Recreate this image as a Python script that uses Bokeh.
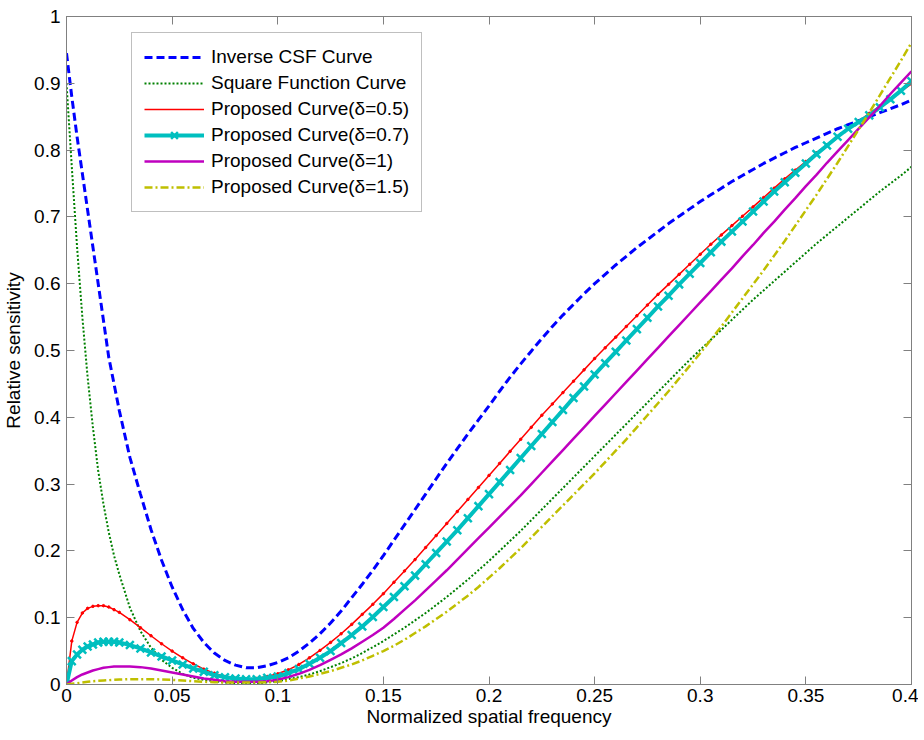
from bokeh.plotting import figure
from bokeh.models import Range1d, LinearAxis, FixedTicker, Legend, LegendItem
from bokeh.embed import file_html
from bokeh.resources import INLINE

# ---------------- data ----------------
FREQ = [0, 0.0025, 0.005, 0.0075, 0.01, 0.0125, 0.015, 0.0175, 0.02, 0.0225, 0.025,
        0.03, 0.035, 0.04, 0.045, 0.05, 0.055, 0.06, 0.065, 0.07, 0.075,
        0.08, 0.085, 0.09, 0.095, 0.1, 0.105, 0.11, 0.115, 0.12, 0.125,
        0.13, 0.135, 0.14, 0.145, 0.15, 0.155, 0.16, 0.165, 0.17, 0.175,
        0.18, 0.185, 0.19, 0.195, 0.2, 0.205, 0.21, 0.215, 0.22, 0.225,
        0.23, 0.235, 0.24, 0.245, 0.25, 0.255, 0.26, 0.265, 0.27, 0.275,
        0.28, 0.285, 0.29, 0.295, 0.3, 0.305, 0.31, 0.315, 0.32, 0.325,
        0.33, 0.335, 0.34, 0.345, 0.35, 0.355, 0.36, 0.365, 0.37, 0.375,
        0.38, 0.385, 0.39, 0.395, 0.4]

INVERSE_CSF = [0.945, 0.88, 0.82, 0.765, 0.71, 0.655, 0.60, 0.545, 0.49, 0.45, 0.41,
               0.34, 0.285, 0.232, 0.186, 0.146, 0.112, 0.084, 0.063, 0.047, 0.036,
               0.029, 0.025, 0.025, 0.028, 0.033, 0.040, 0.050, 0.062, 0.076, 0.092,
               0.110, 0.130, 0.150, 0.171, 0.193, 0.216, 0.239, 0.262, 0.285, 0.308,
               0.331, 0.353, 0.375, 0.396, 0.417, 0.439, 0.460, 0.480, 0.499, 0.518,
               0.536, 0.553, 0.569, 0.585, 0.600, 0.614, 0.628, 0.641, 0.654, 0.666,
               0.678, 0.690, 0.701, 0.712, 0.723, 0.733, 0.743, 0.753, 0.762, 0.771,
               0.780, 0.788, 0.796, 0.804, 0.811, 0.818, 0.825, 0.832, 0.838, 0.844,
               0.850, 0.856, 0.862, 0.868, 0.875]

SQUARE_FUNC = [0.90, 0.775, 0.655, 0.55, 0.46, 0.385, 0.32, 0.27, 0.228, 0.193, 0.165,
               0.115, 0.08, 0.055, 0.037, 0.025, 0.016, 0.010, 0.007, 0.005, 0.003,
               0.002, 0.002, 0.002, 0.003, 0.005, 0.008, 0.011, 0.015, 0.020, 0.026,
               0.032, 0.039, 0.047, 0.056, 0.065, 0.075, 0.085, 0.096, 0.107, 0.119,
               0.131, 0.144, 0.157, 0.171, 0.185, 0.200, 0.215, 0.230, 0.246, 0.262,
               0.278, 0.294, 0.310, 0.326, 0.342, 0.358, 0.374, 0.390, 0.406, 0.422,
               0.438, 0.454, 0.470, 0.486, 0.501, 0.516, 0.531, 0.546, 0.561, 0.576,
               0.590, 0.604, 0.618, 0.632, 0.646, 0.660, 0.673, 0.686, 0.699, 0.712,
               0.725, 0.738, 0.750, 0.762, 0.775]

PROPOSED_05 = [0, 0.065, 0.093, 0.107, 0.114, 0.117, 0.118, 0.118, 0.116, 0.112, 0.108,
               0.097, 0.085, 0.073, 0.061, 0.050, 0.040, 0.031, 0.023, 0.017, 0.012,
               0.009, 0.008, 0.009, 0.012, 0.016, 0.022, 0.030, 0.040, 0.051, 0.063,
               0.076, 0.090, 0.105, 0.120, 0.136, 0.153, 0.170, 0.187, 0.205, 0.223,
               0.241, 0.259, 0.277, 0.295, 0.313, 0.331, 0.349, 0.367, 0.385, 0.403,
               0.420, 0.437, 0.454, 0.471, 0.488, 0.504, 0.520, 0.536, 0.552, 0.568,
               0.584, 0.599, 0.614, 0.629, 0.644, 0.659, 0.673, 0.687, 0.701, 0.715,
               0.729, 0.743, 0.757, 0.770, 0.783, 0.796, 0.808, 0.820, 0.832, 0.843,
               0.855, 0.866, 0.877, 0.888, 0.899]

PROPOSED_07 = [0, 0.035, 0.045, 0.052, 0.057, 0.060, 0.063, 0.064, 0.064, 0.064, 0.063,
               0.059, 0.054, 0.048, 0.042, 0.036, 0.030, 0.024, 0.019, 0.014, 0.011,
               0.009, 0.008, 0.008, 0.010, 0.012, 0.017, 0.023, 0.031, 0.040, 0.050,
               0.062, 0.074, 0.087, 0.101, 0.116, 0.131, 0.147, 0.163, 0.180, 0.197,
               0.214, 0.231, 0.249, 0.267, 0.285, 0.303, 0.321, 0.339, 0.357, 0.375,
               0.393, 0.411, 0.429, 0.446, 0.464, 0.481, 0.498, 0.515, 0.532, 0.549,
               0.566, 0.582, 0.599, 0.615, 0.631, 0.647, 0.663, 0.678, 0.693, 0.708,
               0.723, 0.738, 0.752, 0.766, 0.780, 0.794, 0.807, 0.820, 0.832, 0.842,
               0.852, 0.864, 0.876, 0.889, 0.903]

PROPOSED_10 = [0, 0.006, 0.011, 0.015, 0.018, 0.021, 0.023, 0.025, 0.026, 0.027, 0.027,
               0.027, 0.026, 0.024, 0.021, 0.018, 0.015, 0.012, 0.009, 0.007, 0.005,
               0.004, 0.004, 0.004, 0.005, 0.007, 0.011, 0.016, 0.022, 0.029, 0.037,
               0.045, 0.054, 0.064, 0.074, 0.085, 0.098, 0.112, 0.126, 0.141, 0.156,
               0.171, 0.187, 0.203, 0.219, 0.235, 0.251, 0.267, 0.283, 0.300, 0.317,
               0.334, 0.351, 0.368, 0.385, 0.402, 0.419, 0.436, 0.453, 0.470, 0.487,
               0.504, 0.521, 0.538, 0.555, 0.572, 0.589, 0.606, 0.623, 0.641, 0.658,
               0.676, 0.693, 0.711, 0.728, 0.746, 0.763, 0.781, 0.798, 0.815, 0.832,
               0.849, 0.866, 0.884, 0.901, 0.918]

PROPOSED_15 = [0, 0.001, 0.002, 0.003, 0.004, 0.005, 0.0055, 0.006, 0.0065, 0.007, 0.0075,
               0.008, 0.008, 0.008, 0.0075, 0.007, 0.006, 0.005, 0.004, 0.0035, 0.003,
               0.003, 0.003, 0.003, 0.0035, 0.004, 0.006, 0.009, 0.012, 0.016, 0.020,
               0.025, 0.030, 0.036, 0.043, 0.050, 0.058, 0.067, 0.077, 0.087, 0.098,
               0.109, 0.121, 0.133, 0.146, 0.160, 0.174, 0.189, 0.204, 0.220, 0.236,
               0.252, 0.268, 0.284, 0.300, 0.316, 0.333, 0.350, 0.367, 0.385, 0.403,
               0.421, 0.439, 0.458, 0.477, 0.496, 0.516, 0.536, 0.557, 0.578, 0.599,
               0.620, 0.642, 0.664, 0.687, 0.710, 0.733, 0.757, 0.781, 0.806, 0.831,
               0.856, 0.882, 0.908, 0.934, 0.961]

X_TICKS = [0, 0.05, 0.1, 0.15, 0.2, 0.25, 0.3, 0.35, 0.4]
X_TICK_LABELS = ["0", "0.05", "0.1", "0.15", "0.2", "0.25", "0.3", "0.35", "0.4"]
Y_TICKS = [0, 0.1, 0.2, 0.3, 0.4, 0.5, 0.6, 0.7, 0.8, 0.9, 1]
Y_TICK_LABELS = ["0", "0.1", "0.2", "0.3", "0.4", "0.5", "0.6", "0.7", "0.8", "0.9", "1"]

LABELS = ["Inverse CSF Curve", "Square Function Curve", "Proposed Curve(\u03b4=0.5)",
          "Proposed Curve(\u03b4=0.7)", "Proposed Curve(\u03b4=1)", "Proposed Curve(\u03b4=1.5)"]

# ---------------- figure ----------------
FONT = "Liberation Sans"
AX_COLOR = "#808080"
FS = "19px"

p = figure(width=918, height=733, output_backend="svg", toolbar_location=None,
           x_range=Range1d(0, 0.4), y_range=Range1d(0, 1),
           min_border_left=66, min_border_right=7, min_border_top=16, min_border_bottom=49,
           background_fill_color="white", border_fill_color="white")
p.grid.visible = False
p.outline_line_color = AX_COLOR
p.outline_line_width = 1


def style_axis(ax, ticks, labels, show):
    ax.ticker = FixedTicker(ticks=ticks)
    ax.major_label_overrides = {t: (l if show else "") for t, l in zip(ticks, labels)}
    ax.major_tick_in = 8
    ax.major_tick_out = 0
    ax.minor_tick_line_color = None
    ax.axis_line_color = AX_COLOR
    ax.major_tick_line_color = AX_COLOR
    ax.major_label_text_font = FONT
    ax.major_label_text_font_size = FS if show else "0px"
    ax.major_label_text_color = "black"
    ax.major_label_standoff = 6 if show else 0
    ax.axis_label_text_font = FONT
    ax.axis_label_text_font_size = FS
    ax.axis_label_text_font_style = "normal"
    ax.axis_label_text_color = "black"
    if not show:
        ax.axis_label_standoff = 0


style_axis(p.xaxis[0], X_TICKS, X_TICK_LABELS, True)
style_axis(p.yaxis[0], Y_TICKS, Y_TICK_LABELS, True)
p.xaxis[0].axis_label = "Normalized spatial frequency"
p.yaxis[0].axis_label = "Relative sensitivity"
p.xaxis[0].major_label_standoff = 4
p.xaxis[0].axis_label_standoff = 1
p.yaxis[0].axis_label_standoff = 7

top_ax = LinearAxis()
style_axis(top_ax, X_TICKS, X_TICK_LABELS, False)
p.add_layout(top_ax, "above")
right_ax = LinearAxis()
style_axis(right_ax, Y_TICKS, Y_TICK_LABELS, False)
p.add_layout(right_ax, "right")

# ---------------- series ----------------
r_blue = p.line(FREQ, INVERSE_CSF, line_color="#0000FF", line_width=3, line_dash="8 4")
r_green = p.line(FREQ, SQUARE_FUNC, line_color="#008000", line_width=2, line_dash="2 2")
r_red = p.line(FREQ, PROPOSED_05, line_color="#FF0000", line_width=1.5)
p.scatter(FREQ, PROPOSED_05, marker="circle", size=2.5, line_color="#FF0000",
          fill_color="#FF0000")
r_cyan = p.line(FREQ, PROPOSED_07, line_color="#00BFBF", line_width=4)
r_cyan_m = p.scatter(FREQ, PROPOSED_07, marker="x", size=11, line_color="#00BFBF",
                     line_width=2.5)
r_mag = p.line(FREQ, PROPOSED_10, line_color="#BF00BF", line_width=2.5)
r_yel = p.line(FREQ, PROPOSED_15, line_color="#BFBF00", line_width=2.5, line_dash="8 3 2 3")

legend = Legend(items=[
    LegendItem(label=LABELS[0], renderers=[r_blue]),
    LegendItem(label=LABELS[1], renderers=[r_green]),
    LegendItem(label=LABELS[2], renderers=[r_red]),
    LegendItem(label=LABELS[3], renderers=[r_cyan, r_cyan_m]),
    LegendItem(label=LABELS[4], renderers=[r_mag]),
    LegendItem(label=LABELS[5], renderers=[r_yel]),
], location=(65, 472))
legend.label_text_font = FONT
legend.label_text_font_size = FS
legend.label_text_color = "black"
legend.glyph_width = 60
legend.glyph_height = 24
legend.label_height = 24
legend.spacing = 2
legend.padding = 12
legend.margin = 0
legend.label_standoff = 7
legend.border_line_color = "#7f7f7f"
legend.border_line_width = 1
legend.background_fill_color = "white"
legend.background_fill_alpha = 1
p.add_layout(legend)

open("out.html", "w").write(file_html(p, INLINE))
